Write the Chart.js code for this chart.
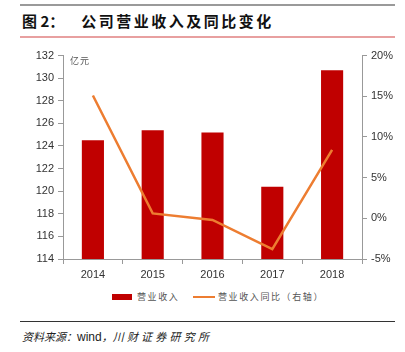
<!DOCTYPE html>
<html><head><meta charset="utf-8">
<script src="https://cdn.jsdelivr.net/npm/chart.js@4/dist/chart.umd.min.js"></script>
<style>
html,body{margin:0;padding:0;background:#fff;width:405px;height:352px;overflow:hidden;position:relative;font-family:"Liberation Sans",Arial,sans-serif;}
.topline{position:absolute;left:20px;top:4px;width:375px;height:2px;background:#9a9a9a;}
.title{position:absolute;left:22px;top:11px;font-family:"Noto Sans CJK SC",sans-serif;font-weight:bold;font-size:15px;color:#111;white-space:nowrap;line-height:19px;}
.title .t{letter-spacing:2.5px;margin-left:17px;}
.pinkline{position:absolute;left:20px;top:36px;width:375px;height:2px;background:#e8a0a0;}
.unit{position:absolute;left:70px;top:54px;font-family:"Noto Sans CJK SC",sans-serif;font-size:9px;color:#555;letter-spacing:1px;}
#wrap{position:absolute;left:0;top:45px;width:405px;height:240px;}
.legend{position:absolute;top:289px;left:0;width:405px;font-family:"Noto Sans CJK SC",sans-serif;font-size:9px;color:#555;letter-spacing:1.6px;}
.legend .sw1{position:absolute;left:112px;top:5px;width:20px;height:6px;background:#C00000;}
.legend .l1{position:absolute;left:137px;top:0;line-height:16px;}
.legend .sw2{position:absolute;left:193px;top:7px;width:22px;height:2px;background:#ED7D31;}
.legend .l2{position:absolute;left:218px;top:0;line-height:16px;}
.botline{position:absolute;left:20px;top:321px;width:375px;height:1px;background:#333;}
.source{position:absolute;left:22px;top:328px;font-family:"Noto Sans CJK SC",sans-serif;font-style:italic;font-size:11px;color:#222;line-height:16px;white-space:nowrap;}
.source .w{font-family:"Liberation Sans",Arial,sans-serif;font-style:normal;font-size:12px;}
.source .c{letter-spacing:3.2px;}
</style></head>
<body>
<div class="topline"></div>
<div class="title">图 2：<span class="t">公司营业收入及同比变化</span></div>
<div class="pinkline"></div>
<div id="wrap"><canvas id="c" width="405" height="240"></canvas></div>
<div class="unit">亿元</div>
<div class="legend"><div class="sw1"></div><div class="l1">营业收入</div><div class="sw2"></div><div class="l2">营业收入同比（右轴）</div></div>
<div class="botline"></div>
<div class="source">资料来源：<span class="w">wind</span>，<span class="c">川财证券研究所</span></div>
<script>
const categories = ['2014','2015','2016','2017','2018'];
const revenue = [124.5, 125.4, 125.2, 120.4, 130.7];
const revenueYoY = [15.1, 0.6, -0.2, -3.8, 8.4];
const leftTicks = {min:114, max:132, step:2};
const rightTicks = {min:-5, max:20, step:5};

const axisColor = '#999';
const tickFont = {family:'"Liberation Sans", Arial, sans-serif', size:11};

new Chart(document.getElementById('c'), {
  data: {
    labels: categories,
    datasets: [
      {type:'line', label:'营业收入同比（右轴）', data: revenueYoY, yAxisID:'y1', borderColor:'#ED7D31', backgroundColor:'#ED7D31', borderWidth:2.5, pointRadius:0, tension:0, order:0},
      {type:'bar', label:'营业收入', data: revenue, yAxisID:'y', backgroundColor:'#C00000', borderWidth:0, barPercentage:0.37, categoryPercentage:1, order:1}
    ]
  },
  options: {
    responsive:false, animation:false,
    layout:{padding:{left:20, right:0, top:8, bottom:0}},
    plugins:{legend:{display:false}, tooltip:{enabled:false}},
    scales:{
      x:{
        grid:{display:true, offset:true, drawOnChartArea:false, drawTicks:true, tickLength:5, color:axisColor},
        border:{display:true, color:axisColor, width:1},
        ticks:{font:tickFont, color:'#333', padding:4, maxRotation:0},
        afterFit:(s)=>{s.height=26;}
      },
      y:{
        position:'left', min:leftTicks.min, max:leftTicks.max,
        ticks:{stepSize:leftTicks.step, font:tickFont, color:'#333', padding:4},
        grid:{drawOnChartArea:false, drawTicks:true, tickLength:5, color:axisColor},
        border:{display:true, color:axisColor, width:1},
        afterFit:(s)=>{s.width=43;}
      },
      y1:{
        position:'right', min:rightTicks.min, max:rightTicks.max,
        ticks:{stepSize:rightTicks.step, font:tickFont, color:'#333', padding:4, callback:(v)=>v+'%'},
        grid:{drawOnChartArea:false, drawTicks:true, tickLength:5, color:axisColor},
        border:{display:true, color:axisColor, width:1},
        afterFit:(s)=>{s.width=43;}
      }
    }
  }
});
</script>
</body></html>
